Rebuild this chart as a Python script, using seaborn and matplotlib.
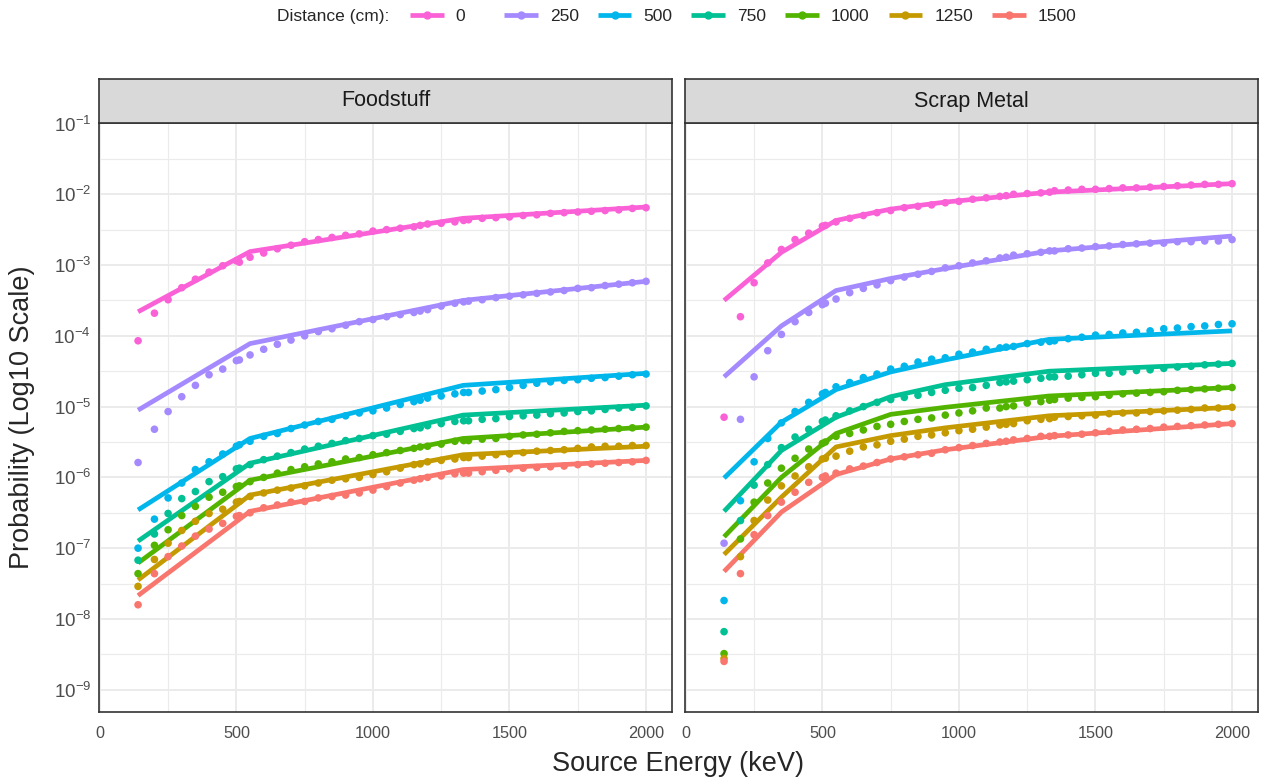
import numpy as np
import pandas as pd
import matplotlib
matplotlib.use("Agg")
import matplotlib.pyplot as plt
import seaborn as sns
from matplotlib.lines import Line2D
from matplotlib.ticker import FixedLocator, LogFormatterMathtext, NullFormatter

# ---------------- data ----------------
distances = ["0", "250", "500", "750", "1000", "1250", "1500"]
colors = ["#FB61D7", "#A58AFF", "#00B6EB", "#00C094", "#53B400", "#C49A00", "#F8766D"]
materials = ["Foodstuff", "Scrap Metal"]

energy = [140, 200, 250, 300, 350, 400, 450, 500, 511, 550, 600, 650, 700, 750,
          800, 850, 900, 950, 1000, 1050, 1100, 1150, 1173, 1200, 1250, 1300, 1332,
          1350, 1400, 1450, 1500, 1550, 1600, 1650, 1700, 1750, 1800, 1850, 1900,
          1950, 2000]

# log10(probability) of simulated points
food_0 = [-4.07, -3.68, -3.49, -3.32, -3.20, -3.10, -3.01, -2.94, -2.96, -2.89, -2.83, -2.77, -2.72, -2.67,
          -2.64, -2.61, -2.58, -2.56, -2.52, -2.50, -2.48, -2.46, -2.44, -2.42, -2.41, -2.39, -2.37,
          -2.36, -2.34, -2.33, -2.32, -2.30, -2.29, -2.27, -2.26, -2.25, -2.24, -2.23, -2.22, -2.20, -2.19]
food_250 = [-5.79, -5.32, -5.07, -4.86, -4.70, -4.55, -4.47, -4.35, -4.34, -4.27, -4.19, -4.12, -4.06, -4.00,
            -3.94, -3.90, -3.85, -3.80, -3.77, -3.73, -3.70, -3.67, -3.65, -3.63, -3.58, -3.54, -3.52,
            -3.51, -3.49, -3.46, -3.44, -3.42, -3.40, -3.38, -3.36, -3.33, -3.32, -3.29, -3.27, -3.25, -3.23]
food_500 = [-7.00, -6.59, -6.29, -6.08, -5.89, -5.78, -5.67, -5.56, -5.54, -5.49, -5.42, -5.38, -5.31, -5.26,
            -5.21, -5.18, -5.13, -5.09, -5.06, -5.02, -4.97, -4.93, -4.91, -4.88, -4.85, -4.82, -4.80,
            -4.80, -4.78, -4.76, -4.73, -4.70, -4.67, -4.65, -4.63, -4.62, -4.60, -4.59, -4.57, -4.55, -4.54]
food_750 = [-7.17, -6.80, -6.51, -6.30, -6.20, -6.06, -5.99, -5.88, -5.87, -5.82, -5.75, -5.70, -5.65, -5.60,
            -5.56, -5.52, -5.48, -5.45, -5.41, -5.39, -5.35, -5.31, -5.30, -5.27, -5.24, -5.21, -5.20,
            -5.20, -5.18, -5.17, -5.14, -5.13, -5.12, -5.10, -5.09, -5.07, -5.06, -5.04, -5.02, -5.01, -4.99]
food_1000 = [-7.36, -6.96, -6.74, -6.54, -6.41, -6.28, -6.21, -6.13, -6.12, -6.06, -6.00, -5.94, -5.89, -5.85,
             -5.81, -5.78, -5.74, -5.72, -5.68, -5.65, -5.62, -5.59, -5.57, -5.56, -5.53, -5.49, -5.48,
             -5.48, -5.46, -5.45, -5.42, -5.40, -5.39, -5.37, -5.35, -5.34, -5.33, -5.32, -5.31, -5.30, -5.29]
food_1250 = [-7.54, -7.16, -6.93, -6.75, -6.62, -6.51, -6.45, -6.35, -6.34, -6.27, -6.22, -6.18, -6.15, -6.12,
             -6.08, -6.04, -6.02, -6.00, -5.96, -5.92, -5.87, -5.82, -5.81, -5.78, -5.76, -5.74, -5.72,
             -5.72, -5.70, -5.68, -5.67, -5.65, -5.63, -5.62, -5.61, -5.59, -5.57, -5.56, -5.56, -5.55, -5.55]
food_1500 = [-7.80, -7.36, -7.12, -6.97, -6.83, -6.73, -6.65, -6.55, -6.54, -6.50, -6.43, -6.39, -6.35, -6.34,
             -6.29, -6.27, -6.25, -6.22, -6.18, -6.13, -6.08, -6.04, -6.02, -6.00, -5.98, -5.95, -5.94,
             -5.94, -5.92, -5.90, -5.88, -5.87, -5.86, -5.85, -5.84, -5.82, -5.81, -5.80, -5.79, -5.78, -5.76]

scrap_0 = [-5.15, -3.73, -3.25, -2.97, -2.78, -2.64, -2.55, -2.45, -2.44, -2.39, -2.34, -2.30, -2.26, -2.23,
           -2.19, -2.17, -2.15, -2.12, -2.10, -2.07, -2.05, -2.03, -2.02, -2.00, -1.99, -1.98, -1.97,
           -1.95, -1.94, -1.93, -1.93, -1.92, -1.91, -1.91, -1.90, -1.89, -1.88, -1.87, -1.86, -1.86, -1.85]
scrap_250 = [-6.93, -5.18, -4.58, -4.21, -3.98, -3.80, -3.67, -3.56, -3.54, -3.48, -3.39, -3.33, -3.28, -3.22,
             -3.17, -3.13, -3.09, -3.04, -3.01, -2.97, -2.94, -2.90, -2.89, -2.86, -2.84, -2.82, -2.80,
             -2.80, -2.77, -2.76, -2.74, -2.73, -2.71, -2.70, -2.69, -2.69, -2.67, -2.67, -2.66, -2.66, -2.64]
scrap_500 = [-7.74, -6.33, -5.78, -5.45, -5.23, -5.07, -4.94, -4.82, -4.80, -4.72, -4.66, -4.59, -4.54, -4.47,
             -4.43, -4.37, -4.33, -4.31, -4.26, -4.23, -4.19, -4.17, -4.16, -4.15, -4.11, -4.09, -4.08,
             -4.07, -4.04, -4.02, -3.99, -3.98, -3.96, -3.95, -3.93, -3.90, -3.89, -3.87, -3.86, -3.84, -3.83]
scrap_750 = [-8.18, -6.61, -6.11, -5.82, -5.58, -5.43, -5.32, -5.21, -5.19, -5.13, -5.06, -5.00, -4.94, -4.90,
             -4.87, -4.84, -4.80, -4.77, -4.74, -4.73, -4.70, -4.66, -4.65, -4.64, -4.62, -4.60, -4.58,
             -4.58, -4.57, -4.55, -4.53, -4.53, -4.51, -4.49, -4.48, -4.46, -4.44, -4.43, -4.41, -4.40, -4.39]
scrap_1000 = [-8.49, -6.87, -6.35, -6.08, -5.87, -5.73, -5.60, -5.52, -5.50, -5.42, -5.38, -5.33, -5.28, -5.25,
              -5.21, -5.18, -5.16, -5.12, -5.09, -5.06, -5.02, -5.02, -5.00, -4.99, -4.95, -4.93, -4.91,
              -4.90, -4.88, -4.87, -4.86, -4.84, -4.82, -4.81, -4.80, -4.79, -4.77, -4.76, -4.75, -4.74, -4.73]
scrap_1250 = [-8.56, -7.12, -6.61, -6.32, -6.12, -5.98, -5.85, -5.74, -5.73, -5.70, -5.63, -5.57, -5.54, -5.49,
              -5.46, -5.42, -5.40, -5.37, -5.34, -5.32, -5.29, -5.26, -5.25, -5.24, -5.20, -5.18, -5.17,
              -5.15, -5.14, -5.13, -5.12, -5.10, -5.09, -5.09, -5.07, -5.06, -5.05, -5.04, -5.02, -5.02, -5.01]
scrap_1500 = [-8.60, -7.36, -6.81, -6.54, -6.35, -6.21, -6.07, -6.00, -5.98, -5.94, -5.88, -5.84, -5.79, -5.74,
              -5.71, -5.68, -5.66, -5.61, -5.58, -5.55, -5.52, -5.50, -5.49, -5.47, -5.45, -5.42, -5.42,
              -5.41, -5.40, -5.39, -5.37, -5.35, -5.33, -5.32, -5.31, -5.29, -5.28, -5.27, -5.26, -5.25, -5.24]

# fitted model lines, log10(probability) at the listed energies
food_line_energy = [140, 550, 1330, 2000]
food_fit_0 = [-3.66, -2.81, -2.34, -2.18]
food_fit_250 = [-5.05, -4.11, -3.50, -3.23]
food_fit_500 = [-6.46, -5.45, -4.70, -4.53]
food_fit_750 = [-6.90, -5.80, -5.12, -4.98]
food_fit_1000 = [-7.21, -6.04, -5.45, -5.29]
food_fit_1250 = [-7.45, -6.25, -5.68, -5.56]
food_fit_1500 = [-7.67, -6.48, -5.89, -5.76]

scrap_line_energy = [140, 350, 550, 750, 950, 1330, 2000]
scrap_fit_0 = [-3.50, -2.82, -2.37, -2.21, -2.11, -1.97, -1.85]
scrap_fit_250 = [-4.58, -3.86, -3.36, -3.19, -3.05, -2.80, -2.59]
scrap_fit_500 = [-6.01, -5.22, -4.76, -4.51, -4.34, -4.05, -3.93]
scrap_fit_750 = [-6.48, -5.62, -5.15, -4.86, -4.69, -4.50, -4.39]
scrap_fit_1000 = [-6.84, -6.00, -5.38, -5.11, -5.01, -4.85, -4.73]
scrap_fit_1250 = [-7.09, -6.28, -5.57, -5.41, -5.30, -5.13, -5.01]
scrap_fit_1500 = [-7.33, -6.49, -5.96, -5.74, -5.61, -5.42, -5.24]

y_tick_exponents = [-9, -8, -7, -6, -5, -4, -3, -2, -1]
x_ticks = [0, 500, 1000, 1500, 2000]
x_minor = [250, 750, 1250, 1750]

# ---------------- assemble tables ----------------
point_sets = {
    "Foodstuff": [food_0, food_250, food_500, food_750, food_1000, food_1250, food_1500],
    "Scrap Metal": [scrap_0, scrap_250, scrap_500, scrap_750, scrap_1000, scrap_1250, scrap_1500],
}
line_sets = {
    "Foodstuff": (food_line_energy, [food_fit_0, food_fit_250, food_fit_500, food_fit_750,
                                     food_fit_1000, food_fit_1250, food_fit_1500]),
    "Scrap Metal": (scrap_line_energy, [scrap_fit_0, scrap_fit_250, scrap_fit_500, scrap_fit_750,
                                        scrap_fit_1000, scrap_fit_1250, scrap_fit_1500]),
}

prow, lrow = [], []
for mat in materials:
    for d, vals in zip(distances, point_sets[mat]):
        for e, v in zip(energy, vals):
            prow.append((mat, d, e, 10.0 ** v))
    le, fits = line_sets[mat]
    for d, vals in zip(distances, fits):
        for e, v in zip(le, vals):
            lrow.append((mat, d, e, 10.0 ** v))
pts = pd.DataFrame(prow, columns=["Material", "Distance", "Energy", "Probability"])
fit = pd.DataFrame(lrow, columns=["Material", "Distance", "Energy", "Probability"])
palette = dict(zip(distances, colors))

# ---------------- style ----------------
sns.set_style("white")
plt.rcParams["font.family"] = ["Liberation Sans", "DejaVu Sans"]
plt.rcParams["mathtext.default"] = "regular"

W, H = 1267, 781
fig = plt.figure(figsize=(W / 100, H / 100), dpi=100)


def rect(x0, y0, x1, y1):
    return [x0 / W, 1 - y1 / H, (x1 - x0) / W, (y1 - y0) / H]


panels = [(99, 123, 672, 712), (685, 123, 1258, 712)]
grid_c = "#EBEBEB"
dark = "#333333"

for i, (mat, (x0, y0, x1, y1)) in enumerate(zip(materials, panels)):
    ax = fig.add_axes(rect(x0, y0, x1, y1))
    ax.set_facecolor("white")
    ax.set_axisbelow(True)
    sns.lineplot(data=fit[fit.Material == mat], x="Energy", y="Probability", hue="Distance",
                 hue_order=distances, palette=palette, estimator=None, sort=True,
                 linewidth=3.4, solid_capstyle="butt", legend=False, ax=ax, zorder=2)
    sns.scatterplot(data=pts[pts.Material == mat], x="Energy", y="Probability", hue="Distance",
                    hue_order=distances, palette=palette, s=30, linewidth=0, legend=False,
                    ax=ax, zorder=3)
    ax.set_yscale("log")
    ax.set_xlim(-3, 2095)
    ax.set_ylim(10 ** -9.315, 10 ** -0.993)
    ax.xaxis.set_major_locator(FixedLocator(x_ticks))
    ax.xaxis.set_minor_locator(FixedLocator(x_minor))
    ax.yaxis.set_major_locator(FixedLocator([10.0 ** k for k in y_tick_exponents]))
    ax.yaxis.set_minor_locator(FixedLocator([10.0 ** (k - 0.5) for k in y_tick_exponents]))
    ax.yaxis.set_major_formatter(LogFormatterMathtext())
    ax.yaxis.set_minor_formatter(NullFormatter())
    ax.grid(which="major", color=grid_c, linewidth=1.4)
    ax.grid(which="minor", color=grid_c, linewidth=0.8)
    ax.tick_params(which="minor", length=0)
    ax.tick_params(which="major", length=3.2, width=1.0, color=dark, labelcolor="#4D4D4D")
    ax.tick_params(axis="x", labelsize=11.7, pad=7)
    ax.tick_params(axis="y", labelsize=13.5, pad=2.5)
    if i == 1:
        ax.tick_params(axis="y", left=False, labelleft=False)
    for s in ax.spines.values():
        s.set_color(dark)
        s.set_linewidth(1.2)
        s.set_zorder(5)
    ax.set_xlabel("")
    ax.set_ylabel("")

    sax = fig.add_axes(rect(x0, 79, x1, 123))
    sax.set_facecolor("#D9D9D9")
    sax.set_xticks([])
    sax.set_yticks([])
    for s in sax.spines.values():
        s.set_color(dark)
        s.set_linewidth(1.2)
    sax.text(0.5, 0.5, mat, ha="center", va="center", fontsize=15.5, color="#1A1A1A",
             transform=sax.transAxes)

fig.text(678.5 / W, 1 - 764 / H, "Source Energy (keV)", ha="center", va="center", fontsize=19.5)
fig.text(22 / W, 1 - 417.5 / H, "Probability (Log10 Scale)", ha="center", va="center",
         rotation=90, fontsize=19.5)

# legend
handles = [Line2D([], [], color=c, lw=3.4, marker="o", markersize=5, solid_capstyle="butt")
           for c in colors]
labels = ["0    "] + distances[1:]
fig.text(277 / W, 1 - 16 / H, "Distance (cm):", ha="left", va="center", fontsize=12.5)
fig.legend(handles, labels, loc="center left", bbox_to_anchor=(410 / W, 1 - 16 / H), ncol=7,
           frameon=False, fontsize=12.5, handlelength=1.95, handletextpad=0.69,
           columnspacing=1.09, borderpad=0, borderaxespad=0)

fig.savefig("out.png", dpi=100, facecolor="white")
